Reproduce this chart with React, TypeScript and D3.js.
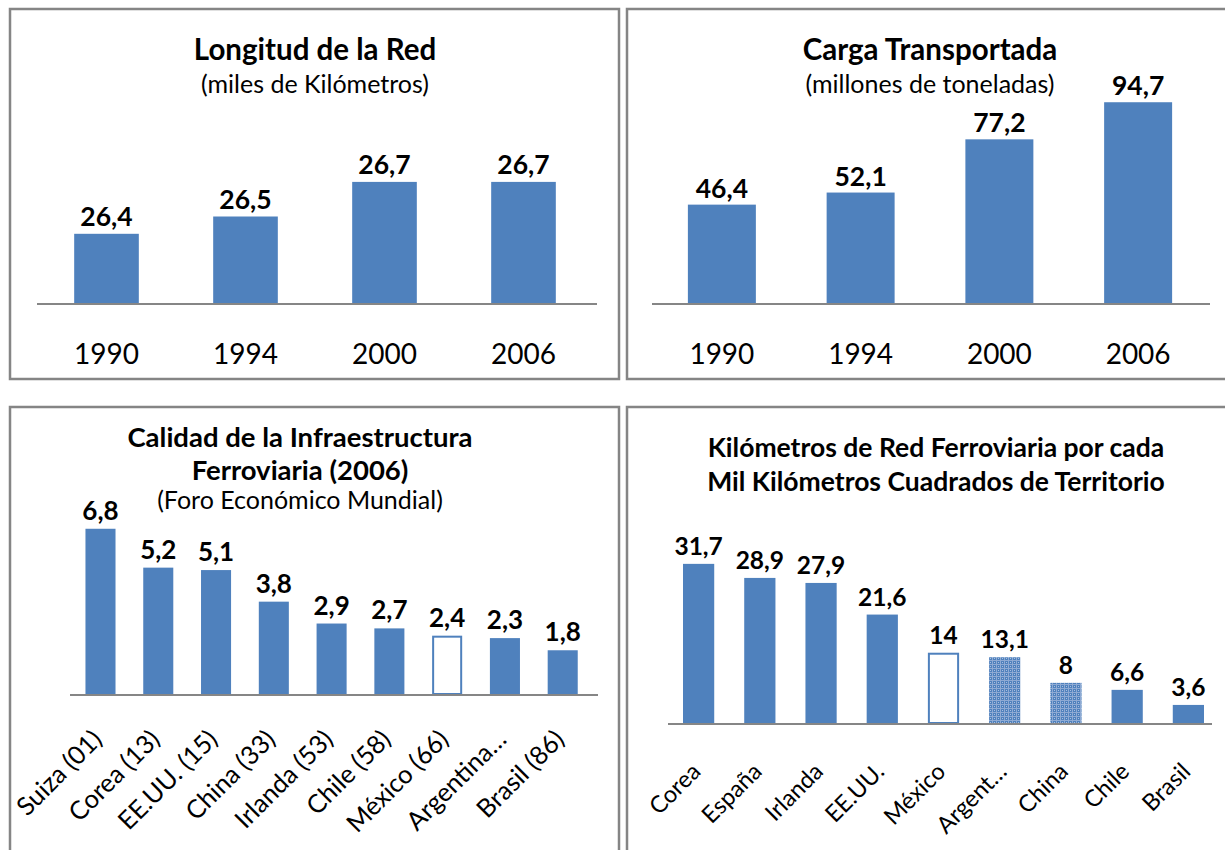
import React from "react";
import * as d3 from "d3";

const years = ["1990", "1994", "2000", "2006"];
const longitudRed = [26.4, 26.5, 26.7, 26.7];
const cargaTransportada = [46.4, 52.1, 77.2, 94.7];

const calidadPaises = ["Suiza (01)", "Corea (13)", "EE.UU. (15)", "China (33)", "Irlanda (53)", "Chile (58)", "México (66)", "Argentina…", "Brasil (86)"];
const calidadValores = [6.8, 5.2, 5.1, 3.8, 2.9, 2.7, 2.4, 2.3, 1.8];
const calidadEstilo = ["solid", "solid", "solid", "solid", "solid", "solid", "outline", "solid", "solid"];

const densidadPaises = ["Corea", "España", "Irlanda", "EE.UU.", "México", "Argent…", "China", "Chile", "Brasil"];
const densidadValores = [31.7, 28.9, 27.9, 21.6, 14, 13.1, 8, 6.6, 3.6];
const densidadEstilo = ["solid", "solid", "solid", "solid", "outline", "pattern", "pattern", "solid", "solid"];

const BLUE = "#4F81BD";
const AXIS = "#868686";
const FONT = "Lato, 'Open Sans', sans-serif";

const fmt = (v: number) => String(v).replace(".", ",");

function fillFor(style: string) {
  if (style === "outline") return "#ffffff";
  if (style === "pattern") return "url(#dotgrid)";
  return BLUE;
}

type PanelProps = {
  cats: string[];
  vals: number[];
  styles?: string[];
  x0: number; x1: number; axisX0: number; axisX1: number;
  baseY: number; yDomain: [number, number]; yTop: number;
  padInner: number;
  labelSize: number;
  tickSize: number;
  rotated: boolean;
  labelOffset: number;
  tickDx: number;
  tickDy: number;
};

function BarPanel(p: PanelProps) {
  const x = d3.scaleBand<string>().domain(p.cats).range([p.x0, p.x1]).paddingInner(p.padInner).paddingOuter(p.padInner / 2);
  const y = d3.scaleLinear().domain(p.yDomain).range([p.baseY, p.yTop]);
  const bw = x.bandwidth();
  return (
    <g>
      {p.cats.map((c, i) => {
        const st = p.styles ? p.styles[i] : "solid";
        const top = y(p.vals[i]);
        const xx = x(c)!;
        return (
          <g key={c}>
            <rect
              x={st === "outline" ? xx + 1 : xx}
              y={st === "outline" ? top + 1 : top}
              width={st === "outline" ? bw - 2 : bw}
              height={st === "outline" ? p.baseY - top - 1 : p.baseY - top}
              fill={fillFor(st)}
              stroke={st === "outline" ? BLUE : "none"}
              strokeWidth={2}
            />
            <text x={xx + bw / 2} y={top - p.labelOffset} textAnchor="middle" fontFamily={FONT} fontWeight={700} fontSize={p.labelSize} fill="#000">
              {fmt(p.vals[i])}
            </text>
          </g>
        );
      })}
      <line x1={p.axisX0} x2={p.axisX1} y1={p.baseY + 1} y2={p.baseY + 1} stroke={AXIS} strokeWidth={2.2} />
      {p.cats.map((c) => {
        const cx = x(c)! + bw / 2;
        if (!p.rotated) {
          return (
            <text key={"t" + c} x={cx} y={p.baseY + p.tickDy} textAnchor="middle" fontFamily={FONT} fontSize={p.tickSize} fill="#000">
              {c}
            </text>
          );
        }
        const ax = cx + p.tickDx;
        const ay = p.baseY + p.tickDy;
        return (
          <text key={"t" + c} x={ax} y={ay} textAnchor="end" transform={`rotate(-45 ${ax} ${ay})`} fontFamily={FONT} fontSize={p.tickSize} fill="#000">
            {c}
          </text>
        );
      })}
    </g>
  );
}

export default function App() {
  return (
    <svg width={1225} height={850} style={{ position: "absolute", left: 0, top: 0, background: "#fff" }}>
      <defs>
        <pattern id="dotgrid" width={4} height={4} patternUnits="userSpaceOnUse">
          <rect width={4} height={4} fill={BLUE} />
          <rect x={0} y={0} width={4} height={1} fill="#8eaad3" />
          <rect x={0} y={0} width={1} height={4} fill="#8eaad3" />
          <rect x={2} y={2} width={1} height={1} fill="#a9c0e0" />
        </pattern>
      </defs>
      <rect width={1225} height={850} fill="#fff" />
      {/* panel frames */}
      <rect x={10} y={9} width={609} height={370} fill="none" stroke="#858585" strokeWidth={2.5} />
      <rect x={627} y={9} width={610} height={370} fill="none" stroke="#858585" strokeWidth={2.5} />
      <rect x={10} y={407} width={609} height={460} fill="none" stroke="#858585" strokeWidth={2.5} />
      <rect x={627} y={407} width={610} height={460} fill="none" stroke="#858585" strokeWidth={2.5} />

      {/* Top-left */}
      <text x={315} y={60} textAnchor="middle" fontFamily={FONT} fontWeight={700} fontSize={29.5}>Longitud de la Red</text>
      <text x={315} y={93} textAnchor="middle" fontFamily={FONT} fontSize={25}>(miles de Kilómetros)</text>
      <BarPanel cats={years} vals={longitudRed} x0={37} x1={593} axisX0={37} axisX1={597} baseY={303} yDomain={[26, 27]} yTop={130}
        padInner={0.535} labelSize={26.5} tickSize={28} rotated={false} labelOffset={8} tickDx={0} tickDy={61} />

      {/* Top-right */}
      <text x={930} y={60} textAnchor="middle" fontFamily={FONT} fontWeight={700} fontSize={29.5}>Carga Transportada</text>
      <text x={930} y={93} textAnchor="middle" fontFamily={FONT} fontSize={25}>(millones de toneladas)</text>
      <BarPanel cats={years} vals={cargaTransportada} x0={652.5} x1={1207.5} axisX0={652} axisX1={1210} baseY={303} yDomain={[0, 100]} yTop={91}
        padInner={0.51} labelSize={26.5} tickSize={28} rotated={false} labelOffset={7} tickDx={0} tickDy={61} />

      {/* Bottom-left */}
      <text x={300} y={447} textAnchor="middle" fontFamily={FONT} fontWeight={700} fontSize={27.5}>Calidad de la Infraestructura</text>
      <text x={300} y={480} textAnchor="middle" fontFamily={FONT} fontWeight={700} fontSize={27.5}>Ferroviaria (2006)</text>
      <text x={300} y={509} textAnchor="middle" fontFamily={FONT} fontSize={25}>(Foro Económico Mundial)</text>
      <BarPanel cats={calidadPaises} vals={calidadValores} styles={calidadEstilo} x0={71.6} x1={591.6} axisX0={70} axisX1={598} baseY={694} yDomain={[0, 8]} yTop={694 - 8 * 24.3}
        padInner={0.48} labelSize={26} tickSize={25.5} rotated={true} labelOffset={9} tickDx={3} tickDy={47} />

      {/* Bottom-right */}
      <text x={936} y={457} textAnchor="middle" fontFamily={FONT} fontWeight={700} fontSize={26.5}>Kilómetros de Red Ferroviaria por cada</text>
      <text x={936} y={491} textAnchor="middle" fontFamily={FONT} fontWeight={700} fontSize={26.5}>Mil Kilómetros Cuadrados de Territorio</text>
      <BarPanel cats={densidadPaises} vals={densidadValores} styles={densidadEstilo} x0={668} x1={1219} axisX0={668} axisX1={1212} baseY={723} yDomain={[0, 35]} yTop={723 - 35 * 5.02}
        padInner={0.49} labelSize={24.5} tickSize={23.5} rotated={true} labelOffset={9} tickDx={3.5} tickDy={50} />
    </svg>
  );
}
